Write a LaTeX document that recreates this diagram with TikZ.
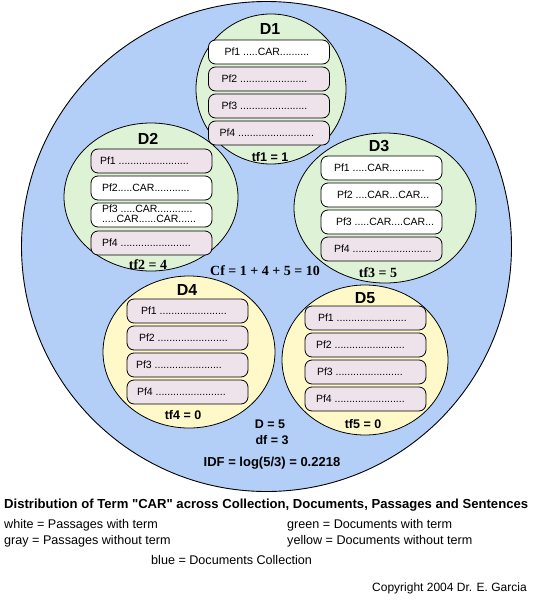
\documentclass[tikz,border=0pt]{standalone}
\usepackage{fontspec}
\setmainfont{Liberation Sans}[Ligatures=TeXOff]
\newfontfamily\serifbf{Liberation Serif}
\usetikzlibrary{shapes.geometric}
\definecolor{collblue}{HTML}{B4CFF7}
\definecolor{docgreen}{HTML}{DEF2D6}
\definecolor{docyellow}{HTML}{FFF9CA}
\definecolor{passgray}{HTML}{EEE3EB}
\newcommand\pfbox[5]{\node[pbox, fill=#3] (#1) at (#2) {\makebox[121pt][l]{\hspace{#4pt}#5}};}
\begin{document}
\begin{tikzpicture}[x=1pt,y=-1pt,
  collnode/.style={draw=black, line width=0.9pt, fill=collblue, circle, inner sep=0pt},
  docnode/.style={draw=black, line width=0.8pt, ellipse, inner sep=0pt},
  pbox/.style={draw=black, line width=0.8pt, rounded corners=7pt, minimum width=121pt, minimum height=24pt, inner sep=0pt, font=\fontsize{10.5}{12}\selectfont},
  dlabel/.style={font=\fontsize{16}{18}\selectfont\bfseries},
  tfsans/.style={font=\fontsize{12.5}{14}\selectfont\bfseries},
  tfserif/.style={font=\fontsize{14}{16}\serifbf\bfseries},
  legend/.style={anchor=base west, font=\fontsize{12.6}{14}\selectfont, inner sep=0pt}
]
\useasboundingbox (0,0) rectangle (540,600);
\fill[white] (0,0) rectangle (540,600);

% collection
\node[collnode, minimum size=490pt] (coll) at (266.5,246.5) {};

% documents
\node[docnode, fill=docgreen, minimum width=150pt, minimum height=150pt] (D1) at (271,89) {};
\node[docnode, fill=docgreen, minimum width=174pt, minimum height=148pt] (D2) at (151,197) {};
\node[docnode, fill=docgreen, minimum width=182pt, minimum height=150pt] (D3) at (385,208) {};
\node[docnode, fill=docyellow, minimum width=172pt, minimum height=152pt] (D4) at (189,352) {};
\node[docnode, fill=docyellow, minimum width=166pt, minimum height=150pt] (D5) at (365,360) {};

% document titles
\node[dlabel] (t1) at (270,29) {D1};
\node[dlabel] (t2) at (148,139) {D2};
\node[dlabel] (t3) at (379,146) {D3};
\node[dlabel] (t4) at (187,290) {D4};
\node[dlabel] (t5) at (365,298) {D5};

% D1 passages
\pfbox{a1}{269,52}{white}{16}{Pf1 .....CAR..........}
\pfbox{a2}{269,79}{passgray}{13}{Pf2 .......................}
\pfbox{a3}{269,106}{passgray}{13}{Pf3 .......................}
\pfbox{a4}{269,133}{passgray}{11}{Pf4 ..........................}

% D2 passages
\pfbox{b1}{151.5,161}{passgray}{9}{Pf1 ........................}
\pfbox{b2}{151.5,188}{white}{11}{Pf2.....CAR............}
\pfbox{b3}{151.5,215}{white}{11}{\begin{tabular}{@{}l@{}}Pf3 .....CAR............\\[-2.5pt] .....CAR......CAR......\end{tabular}}
\pfbox{b4}{151.5,243}{passgray}{11}{Pf4 ........................}

% D3 passages
\pfbox{c1}{381.5,168}{white}{13}{Pf1 .....CAR............}
\pfbox{c2}{381.5,195}{white}{16}{Pf2 ....CAR...CAR...}
\pfbox{c3}{381.5,222}{white}{15}{Pf3 .....CAR....CAR...}
\pfbox{c4}{381.5,249}{passgray}{13}{Pf4 ...........................}

% D4 passages
\pfbox{d1}{187.5,311}{passgray}{14}{Pf1 .......................}
\pfbox{d2}{187.5,338}{passgray}{12}{Pf2 ........................}
\pfbox{d3}{187.5,365}{passgray}{9}{Pf3 .......................}
\pfbox{d4}{187.5,392}{passgray}{10}{Pf4 ........................}

% D5 passages
\pfbox{e1}{365.5,318}{passgray}{13}{Pf1 ........................}
\pfbox{e2}{365.5,345}{passgray}{11}{Pf2 ........................}
\pfbox{e3}{365.5,372}{passgray}{12}{Pf3 .......................}
\pfbox{e4}{365.5,399}{passgray}{11}{Pf4 ........................}

% term frequencies
\node[tfsans] (tf1) at (270,157) {tf1 = 1};
\node[tfserif] (tf2) at (148,265) {tf2 = 4};
\node[tfserif] (tf3) at (378,273) {tf3 = 5};
\node[tfsans] (tf4) at (183,415) {tf4 = 0};
\node[tfsans] (tf5) at (363,424) {tf5 = 0};

% collection statistics
\node[tfserif] (cf) at (265,271) {Cf = 1 + 4 + 5 = 10};
\node[tfsans] (dd) at (270,424) {D = 5};
\node[tfsans] (df) at (272,440) {df = 3};
\node[font=\fontsize{13}{15}\selectfont\bfseries] (idf) at (272,463) {IDF = log(5/3) = 0.2218};

% caption and legend
\node[legend, font=\fontsize{13.1}{15}\selectfont\bfseries] (cap) at (4,508) {Distribution of Term "CAR" across Collection, Documents, Passages and Sentences};
\node[legend] (lw) at (4,528) {white = Passages with term};
\node[legend] (lg) at (4,544) {gray = Passages without term};
\node[legend] (lgr) at (287,528) {green = Documents with term};
\node[legend] (ly) at (287,544) {yellow = Documents without term};
\node[legend] (lb) at (151,564) {blue = Documents Collection};
\node[legend, font=\fontsize{12}{14}\selectfont] (copy) at (372,591) {Copyright 2004 Dr. E. Garcia};
\end{tikzpicture}
\end{document}
